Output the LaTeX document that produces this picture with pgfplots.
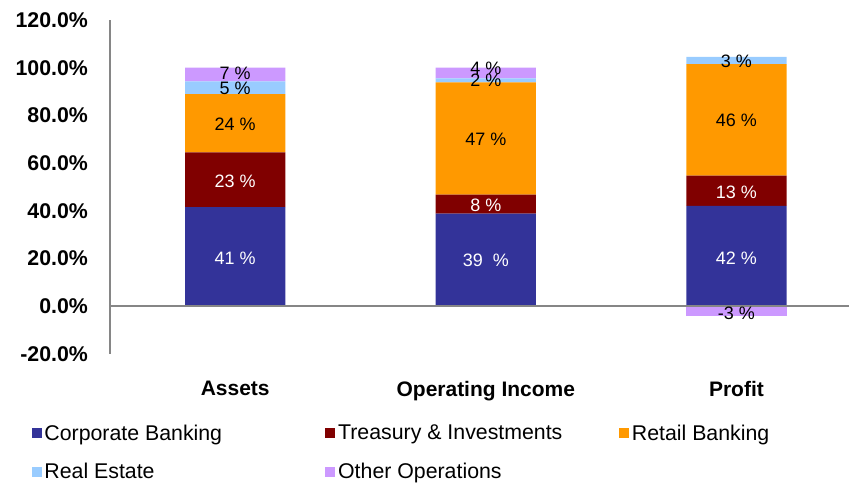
\documentclass[border=0pt]{standalone}
\usepackage{pgfplots}
\pgfplotsset{compat=1.18}
\usepackage{fontspec}
\setmainfont{Liberation Sans}

\definecolor{corp}{HTML}{333399}
\definecolor{treas}{HTML}{800000}
\definecolor{retail}{HTML}{FF9900}
\definecolor{realest}{HTML}{99CCFF}
\definecolor{otherop}{HTML}{CC99FF}
\definecolor{axisgray}{HTML}{868686}

\pgfplotsset{
  base/.style={
    scale only axis,
    width=555pt, height=250.5pt,
    xmin=-0.5, xmax=2.45,
    ymin=-20, ymax=120,
    clip=false,
  },
  seglabel/.style={
    draw=none, mark=none, forget plot,
    nodes near coords, point meta=explicit symbolic,
    every node near coord/.append style={anchor=center,
      font=\fontsize{13.5}{14}\selectfont, text=#1},
  },
}

\begin{document}
\begin{tikzpicture}
% negative part of the profit bar (drawn first, under the zero line)
\begin{axis}[base, hide axis]
\addplot[ybar, bar width=0.4, fill=otherop, draw=none, forget plot]
  coordinates {(2,-4.2)};
\end{axis}

\begin{axis}[
  base,
  ybar stacked,
  bar width=0.4,
  axis on top,
  axis lines*=left,
  x axis line style={draw=none},
  y axis line style={axisgray, line width=1.2pt, -},
  major tick length=0pt,
  ytick={-20,0,...,120},
  yticklabel={\pgfmathprintnumber[assume math mode=true, fixed, fixed zerofill, precision=1]{\tick}\%},
  yticklabel style={font=\bfseries\fontsize{16}{17}\selectfont, xshift=-13pt},
  extra y ticks={0},
  extra y tick labels={},
  extra y tick style={grid=major, major grid style={axisgray, line width=1.2pt}},
  xtick={0,1,2},
  xticklabels={Assets, Operating Income, Profit},
  xticklabel style={font=\bfseries\fontsize{15.75}{17}\selectfont, yshift=-17pt},
  legend columns=3,
  legend cell align=left,
  legend style={draw=none, fill=none, inner sep=0pt,
    at={(-0.106,-0.204)}, anchor=north west,
    font=\fontsize{16}{17}\selectfont, row sep=12pt},
  legend image code/.code={\fill[#1] (0pt,-3.75pt) rectangle (7.5pt,3.75pt);},
]
\addplot[fill=corp, draw=none] coordinates {(0,41.5) (1,38.8) (2,42.0)};
\addplot[fill=treas, draw=none] coordinates {(0,23.0) (1,7.9) (2,12.7)};
\addplot[fill=retail, draw=none] coordinates {(0,24.4) (1,47.1) (2,46.8)};
\addplot[fill=realest, draw=none] coordinates {(0,5.4) (1,1.7) (2,3.0)};
\addplot[fill=otherop, draw=none] coordinates {(0,5.7) (1,4.5) (2,0)};
\legend{\makebox[209pt][l]{Corporate Banking}, \makebox[209pt][l]{Treasury \& Investments}, Retail Banking,
  \makebox[209pt][l]{Real Estate}, \makebox[209pt][l]{Other Operations}}
\path (rel axis cs:-0.1486,1.06) rectangle (rel axis cs:1,-0.383);
\end{axis}

% segment labels
\begin{axis}[base, hide axis]
\addplot[seglabel=white] coordinates {
  (0,20.1)[41 \%] (1,19.3)[39\ \ \%] (2,20.1)[42 \%]
  (0,52.4)[23 \%] (1,42.3)[8 \%] (2,47.8)[13 \%]};
\addplot[seglabel=black] coordinates {
  (0,76.3)[24 \%] (1,70)[47 \%] (2,78)[46 \%]
  (0,91.4)[5 \%] (1,94.8)[2 \%] (2,102.7)[3 \%]
  (0,97.7)[7 \%] (1,99.8)[4 \%] (2,-2.9)[-3 \%]};
\end{axis}
\end{tikzpicture}
\end{document}
